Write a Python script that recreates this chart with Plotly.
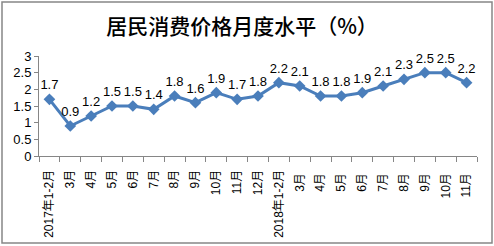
import plotly.graph_objects as go

categories = ["2017年1-2月", "3月", "4月", "5月", "6月", "7月", "8月", "9月", "10月", "11月", "12月",
              "2018年1-2月", "3月 ", "4月 ", "5月 ", "6月 ", "7月 ", "8月 ", "9月 ", "10月 ", "11月 "]
values = [1.7, 0.9, 1.2, 1.5, 1.5, 1.4, 1.8, 1.6, 1.9, 1.7, 1.8,
          2.2, 2.1, 1.8, 1.8, 1.9, 2.1, 2.3, 2.5, 2.5, 2.2]
labels = [f"{v:.1f}" for v in values]
y_ticks = [0, 0.5, 1, 1.5, 2, 2.5, 3]
y_tick_text = ["0", "0.5", "1", "1.5", "2", "2.5", "3"]

W, H = 494, 246
L, R, T, B = 39, 17, 56, 90
pw, ph = W - L - R, H - T - B

fig = go.Figure()
fig.add_trace(go.Scatter(
    x=categories, y=values, mode="lines+markers+text",
    line=dict(color="#4A7EBB", width=3),
    marker=dict(symbol="diamond", size=9, color="#4A7EBB"),
    text=labels, textposition="top center",
    textfont=dict(family="Liberation Sans, Arial", size=13, color="#000000"),
    cliponaxis=False, showlegend=False,
))

def px_x(p):
    return (p - L) / pw

def px_y(p):
    return (H - B - p) / ph

fig.add_shape(type="rect", xref="paper", yref="paper",
              x0=px_x(2), x1=px_x(492), y0=px_y(243), y1=px_y(2),
              line=dict(color="#868686", width=1.5), fillcolor="rgba(0,0,0,0)", layer="below")

fig.update_layout(
    width=W, height=H,
    margin=dict(l=L, r=R, t=T, b=B, autoexpand=False),
    paper_bgcolor="white", plot_bgcolor="white",
    title=dict(text="居民消费价格月度水平（%）", x=(242 - L) / pw, xanchor="center",
               y=1 - 27 / H, yanchor="middle", xref="paper", yref="container",
               font=dict(family="Noto Sans CJK SC", size=21, color="#000000", weight=500)),
    font=dict(family="Liberation Sans, Arial", size=11, color="#000000"),
    xaxis=dict(
        type="category", tickangle=-90, showline=True, linecolor="#868686", linewidth=1,
        ticks="outside", ticklen=5, tickcolor="#868686", tickson="boundaries",
        range=[-0.5, len(categories) - 0.5], ticklabelstandoff=8,
        showgrid=False, zeroline=False, automargin=False,
        tickfont=dict(family="Liberation Sans, Noto Sans CJK SC", size=12, color="#000000"),
    ),
    yaxis=dict(
        range=[0, 3], tickvals=y_ticks, ticktext=y_tick_text,
        showline=True, linecolor="#868686", linewidth=1,
        ticks="outside", ticklen=4, tickcolor="#868686",
        showgrid=False, zeroline=False, automargin=False,
        tickfont=dict(family="Liberation Sans, Arial", size=13, color="#000000"),
    ),
)

fig.write_html("out.html")
